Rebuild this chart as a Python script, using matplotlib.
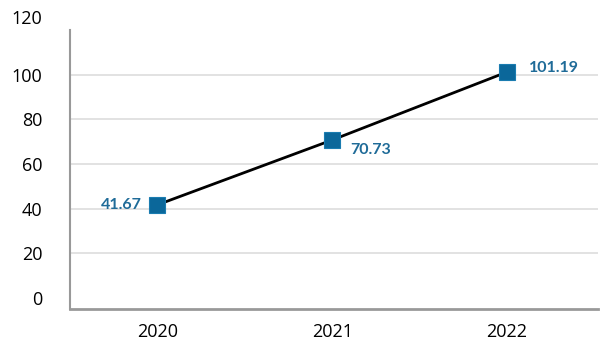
import matplotlib.pyplot as plt
import matplotlib.transforms as mtransforms

years = ['2020', '2021', '2022']
values = [41.67, 70.73, 101.19]
y_ticks = [0, 20, 40, 60, 80, 100, 120]

fig = plt.figure(figsize=(6, 3.47), dpi=100)
ax = fig.add_axes([70 / 600, 1 - 309 / 347, 528 / 600, 279 / 347])

x = list(range(len(years)))
ax.plot(x, values, color='black', linewidth=2, zorder=3)
ax.plot(x, values, linestyle='none', marker='s', markersize=11,
        markerfacecolor='#0b679a', markeredgecolor='#1a7cb0', markeredgewidth=0.8, zorder=4)

# etykiety danych
lab_color = '#1f6b98'
lab_kw = dict(textcoords='offset points', va='center', color=lab_color,
              fontsize=11.5, fontweight='bold', family='Lato')
ax.annotate(f'{values[0]:.2f}', (x[0], values[0]), xytext=(-11, 0), ha='right', **lab_kw)
ax.annotate(f'{values[1]:.2f}', (x[1], values[1]), xytext=(13, -7), ha='left', **lab_kw)
ax.annotate(f'{values[2]:.2f}', (x[2], values[2]), xytext=(16, 3), ha='left', **lab_kw)

ax.set_xlim(-0.5, 2.52)
ax.set_ylim(-5, 120)
ax.set_xticks(x)
ax.set_xticklabels(years, fontsize=13, family='Open Sans')
ax.set_yticks(y_ticks)
ax.set_yticklabels([str(v) for v in y_ticks], fontsize=13, family='Open Sans')
ax.tick_params(axis='both', length=0, colors='black')
ax.tick_params(axis='y', pad=20)
ax.tick_params(axis='x', pad=10)

# etykieta 120 wyżej niż szczyt osi
offset = mtransforms.ScaledTranslation(0, 9 / 72, fig.dpi_scale_trans)
lbl_top = ax.get_yticklabels()[-1]
lbl_top.set_transform(lbl_top.get_transform() + offset)

for v in y_ticks[1:-1]:
    ax.axhline(v, color='#dddddd', linewidth=1.2, zorder=1)

for side in ['top', 'right']:
    ax.spines[side].set_visible(False)
ax.spines['left'].set_color('#999999')
ax.spines['left'].set_linewidth(1.5)
ax.spines['bottom'].set_color('#999999')
ax.spines['bottom'].set_linewidth(2)

plt.savefig('out.png', dpi=100)
